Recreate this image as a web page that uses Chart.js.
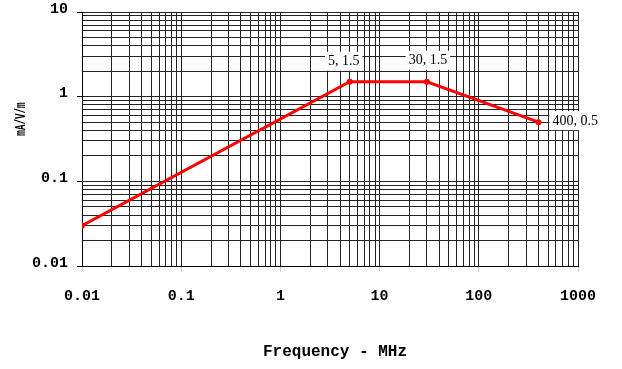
<html>
  <head>
    <title>Field vs frequency</title>
    <script src="https://cdn.jsdelivr.net/npm/chart.js@4.4.0/dist/chart.umd.min.js"></script>
    <style>
      body { margin:0; background:#fff; }
    </style>
  </head>
  <body>
    <canvas id="myChart" width="622" height="369"></canvas>
    <script>
      // data
      var freqs = [0.01, 5, 30, 400];
      var fields = [0.03, 1.5, 1.5, 0.5];
      var pointNotes = ['', '5, 1.5', '30, 1.5', '400, 0.5'];
      var xDecades = [0.01, 0.1, 1, 10, 100, 1000];
      var xTickLabels = ['0.01', '0.1', '1', '10', '100', '1000'];
      var yDecades = [0.01, 0.1, 1, 10];
      var yTickLabels = ['0.01', '0.1', '1', '10'];

      // 1..9 steps inside every decade
      function logTicks(decades) {
        var out = [];
        for (var i = 0; i < decades.length - 1; i++) {
          for (var m = 1; m <= 9; m++) out.push({value: decades[i] * m});
        }
        out.push({value: decades[decades.length - 1]});
        return out;
      }

      var noteStyle = [null, {dx:-6, dy:-21, align:'center'}, {dx:1, dy:-22, align:'center'}, {dx:14, dy:-2, align:'left'}];

      var extras = {
        id: 'extras',
        afterDatasetsDraw: function(chart) {
          var ctx = chart.ctx, xs = chart.scales.x, ys = chart.scales.y;
          ctx.save();
          ctx.font = '14px "Liberation Serif"';
          ctx.textBaseline = 'middle';
          for (var i = 0; i < pointNotes.length; i++) {
            if (!pointNotes[i]) continue;
            var st = noteStyle[i];
            var px = xs.getPixelForValue(freqs[i]) + st.dx;
            var py = ys.getPixelForValue(fields[i]) + st.dy;
            var w = ctx.measureText(pointNotes[i]).width;
            var left = st.align == 'center' ? px - w / 2 : px;
            ctx.fillStyle = '#fff';
            ctx.fillRect(left - 3, py - 9, w + 6, 19);
            ctx.fillStyle = '#000';
            ctx.textAlign = 'left';
            ctx.fillText(pointNotes[i], left, py + 1);
          }
          ctx.restore();
        },
        afterDraw: function(chart) {
          var ctx = chart.ctx, a = chart.chartArea;
          ctx.save();
          ctx.fillStyle = '#000';
          ctx.font = 'bold 16px "Liberation Mono"';
          ctx.textAlign = 'center';
          ctx.textBaseline = 'middle';
          ctx.fillText('Frequency - MHz', (a.left + a.right) / 2 + 5, a.bottom + 86);
          ctx.translate(a.left - 61, a.top + 107);
          ctx.rotate(-Math.PI / 2);
          ctx.scale(0.66, 1);
          ctx.font = 'bold 14px "Liberation Mono"';
          ctx.fillText('mA/V/m', 0, 0);
          ctx.restore();
        }
      };

      function tickLabel(decades, labels) {
        return function(value) {
          var i = decades.indexOf(value);
          return i < 0 ? '' : labels[i];
        };
      }

      var ctx = document.getElementById('myChart').getContext('2d');
      var myChart = new Chart(ctx, {
        type: 'line',
        data: {
          datasets: [{
            data: freqs.map(function(f, i) { return {x: f, y: fields[i]}; }),
            borderColor: '#ff0000',
            backgroundColor: '#ff0000',
            borderWidth: 3,
            pointRadius: 1.5,
            fill: false,
            tension: 0
          }]
        },
        options: {
          responsive: false,
          animation: false,
          devicePixelRatio: 1,
          layout: { padding: { top: 12, right: 44, left: 0, bottom: 0 } },
          plugins: { legend: { display: false }, tooltip: { enabled: false } },
          scales: {
            x: {
              type: 'logarithmic',
              min: xDecades[0], max: xDecades[xDecades.length - 1],
              afterBuildTicks: function(s) { s.ticks = logTicks(xDecades); },
              afterFit: function(s) { s.height = 103; s.paddingLeft = 0; s.paddingRight = 0; },
              grid: {
                color: '#222', lineWidth: 1, tickLength: 6,
                tickColor: function(c) { return xDecades.indexOf(c.tick && c.tick.value) < 0 ? 'rgba(0,0,0,0)' : '#ccc'; }
              },
              border: { color: '#000' },
              ticks: {
                autoSkip: false, maxRotation: 0, padding: 15, color: '#000',
                font: { family: 'Liberation Mono', size: 15, weight: 'bold' },
                callback: tickLabel(xDecades, xTickLabels)
              }
            },
            y: {
              type: 'logarithmic',
              min: yDecades[0], max: yDecades[yDecades.length - 1],
              afterBuildTicks: function(s) { s.ticks = logTicks(yDecades); },
              afterFit: function(s) { s.width = 82; s.paddingTop = 0; s.paddingBottom = 0; },
              grid: {
                color: '#222', lineWidth: 1, tickLength: 5,
                tickColor: function(c) { return yDecades.indexOf(c.tick && c.tick.value) < 0 ? 'rgba(0,0,0,0)' : '#000'; }
              },
              border: { color: '#000' },
              ticks: {
                autoSkip: false, padding: 9, labelOffset: -3, color: '#000',
                font: { family: 'Liberation Mono', size: 15, weight: 'bold' },
                callback: tickLabel(yDecades, yTickLabels)
              }
            }
          }
        },
        plugins: [extras]
      });
    </script>
  </body>
</html>
